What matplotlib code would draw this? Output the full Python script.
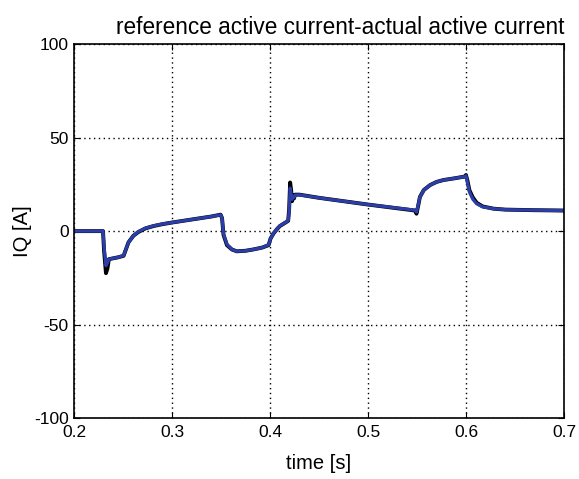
import matplotlib
matplotlib.use("Agg")
import matplotlib.pyplot as plt

plt.rcParams["font.family"] = ["Liberation Sans", "DejaVu Sans"]
plt.rcParams["axes.unicode_minus"] = False

# reference current (black)
t_ref = [0.2, 0.2295, 0.2305, 0.2325, 0.234, 0.2355, 0.245, 0.2505, 0.2555, 0.2605,
         0.2655, 0.273, 0.281, 0.29, 0.30, 0.32, 0.34, 0.3495, 0.351, 0.3525,
         0.356, 0.361, 0.366, 0.375, 0.383, 0.392, 0.3985, 0.4005, 0.4035, 0.407,
         0.410, 0.414, 0.4185, 0.4195, 0.4205, 0.4215, 0.4225, 0.4235, 0.4245, 0.4255,
         0.430, 0.45, 0.50, 0.548, 0.5495, 0.551, 0.553, 0.557, 0.5633, 0.570,
         0.5769, 0.588, 0.599, 0.600, 0.6015, 0.6035, 0.607, 0.611, 0.617, 0.628,
         0.64, 0.6687, 0.7]
iq_ref = [0, 0, -10, -22.5, -20, -15, -14, -13.2, -6, -2.5,
          -0.5, 1.5, 2.7, 3.7, 4.6, 6.2, 7.8, 8.8, 7, -2,
          -7.5, -9.8, -10.8, -10.5, -9.8, -8.8, -7.5, -4, -1.3, 1.0,
          2.7, 4.0, 5.5, 12, 26, 22, 16, 19, 17.5, 19.5,
          19.5, 17.8, 14.2, 11, 9.3, 13, 18.3, 22, 24.6, 26.3,
          27.3, 28.2, 29.2, 30, 27, 21.9, 18, 15.1, 13.2, 12,
          11.5, 11.2, 11.0]

# actual current (blue)
t_act = [0.2, 0.2295, 0.2305, 0.2325, 0.234, 0.2355, 0.245, 0.2505, 0.2555, 0.2605,
         0.2655, 0.273, 0.281, 0.29, 0.30, 0.32, 0.34, 0.3495, 0.351, 0.3525,
         0.356, 0.361, 0.366, 0.375, 0.383, 0.392, 0.3985, 0.4005, 0.4035, 0.407,
         0.410, 0.414, 0.4185, 0.4195, 0.4205, 0.4215, 0.4225, 0.4235, 0.4245, 0.4255,
         0.430, 0.45, 0.50, 0.548, 0.5495, 0.551, 0.553, 0.557, 0.5633, 0.570,
         0.5769, 0.588, 0.599, 0.600, 0.6015, 0.6035, 0.607, 0.611, 0.617, 0.628,
         0.64, 0.6687, 0.7]
iq_act = [0, 0, -8, -18.5, -17, -15, -14, -13, -6, -2.5,
          -0.3, 1.6, 2.8, 3.8, 4.6, 6.2, 7.8, 8.7, 7, -1.5,
          -7, -9.8, -10.8, -10.5, -9.8, -8.8, -7.3, -4, -1.2, 1.1,
          2.8, 4.1, 5.6, 11, 23, 20, 17, 18.5, 18, 19.3,
          19.4, 17.8, 14.2, 11.2, 10.2, 13.5, 18.3, 22, 24.6, 26.3,
          27.3, 28.2, 29.2, 29.6, 26, 21, 17, 14.6, 13, 12,
          11.5, 11.2, 11.0]

fig = plt.figure(figsize=(5.79, 4.79), dpi=100)
ax = fig.add_axes([0.128, 0.127, 0.846, 0.781])

ax.plot(t_ref, iq_ref, color="black", linewidth=2.8, solid_joinstyle="round")
ax.plot(t_act, iq_act, color="#2b3da8", linewidth=2.3, solid_joinstyle="round")

ax.set_xlim(0.2, 0.7)
ax.set_ylim(-100, 100)
ax.set_xticks([0.2, 0.3, 0.4, 0.5, 0.6, 0.7])
ax.set_xticklabels(["0.2", "0.3", "0.4", "0.5", "0.6", "0.7"])
ax.set_yticks([-100, -50, 0, 50, 100])
ax.grid(True, color="black", linestyle=(0, (1, 2.5)), linewidth=1.0)
ax.tick_params(direction="in", top=True, right=True, labelsize=12.5, length=4)
ax.tick_params(axis="x", pad=5)
ax.tick_params(axis="y", pad=4)
for s in ax.spines.values():
    s.set_linewidth(1.2)

ax.set_xlabel("time [s]", fontsize=14.5, labelpad=10)
ax.set_ylabel("IQ [A]", fontsize=14.5, labelpad=1)
ax.set_title("reference active current-actual active current", fontsize=16.3, pad=7, loc="right")

fig.savefig("out.png", dpi=100)
